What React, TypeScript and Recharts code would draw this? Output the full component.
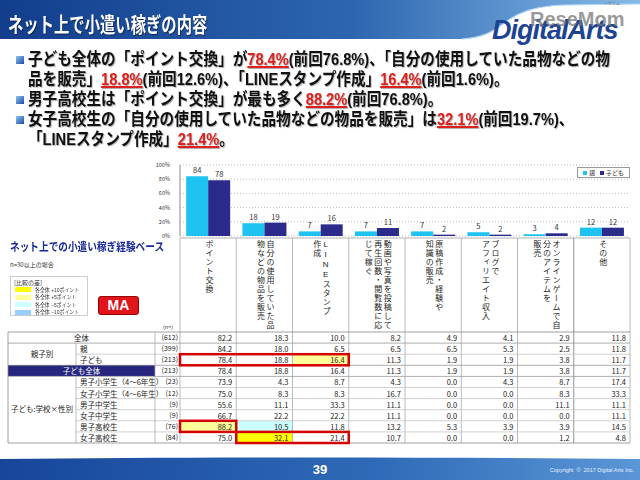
import React from 'react';
import { BarChart, Bar, XAxis, YAxis, CartesianGrid, LabelList, Legend } from 'recharts';

// ---------- data ----------
const titleText = 'ネット上で小遣い稼ぎの内容';
const categories = [
  'ポイント交換',
  '自分の使用していた品物などの物品を販売',
  'LINEスタンプ作成',
  '動画や写真を投稿して再生回数・閲覧数に応じて稼ぐ',
  '原稿作成・経験や知識の販売',
  'ブログでアフィリエイト収入',
  'オンラインゲームで自分のアイテムを販売',
  'その他',
];
const categoryHeaderLines = [
  ['ポイント交換'],
  ['自分の使用していた品', '物などの物品を販売'],
  ['LINEスタンプ', '作成'],
  ['動画や写真を投稿して', '再生回数・閲覧数に応', 'じて稼ぐ'],
  ['原稿作成・経験や', '知識の販売'],
  ['ブログで', 'アフィリエイト収入'],
  ['オンラインゲームで自', '分のアイテムを', '販売'],
  ['その他'],
];
const seriesNames = ['親', '子ども'];
const parentValues = [84.2, 18.0, 6.5, 6.5, 6.5, 5.3, 2.5, 11.8];
const childValues = [78.4, 18.8, 16.4, 11.3, 1.9, 1.9, 3.8, 11.7];
const yTicks = [0, 20, 40, 60, 80, 100];

const rowLabels = [
  '全体', '親', '子ども', '子ども全体',
  '男子小学生（4〜6年生）', '女子小学生（4〜6年生）',
  '男子中学生', '女子中学生', '男子高校生', '女子高校生',
];
const groupLabels = ['親子別', '子ども:学校×性別'];
const rowN = [612, 399, 213, 213, 23, 12, 9, 9, 76, 84];
const rowValues = [
  [82.2, 18.3, 10.0, 8.2, 4.9, 4.1, 2.9, 11.8],
  [84.2, 18.0, 6.5, 6.5, 6.5, 5.3, 2.5, 11.8],
  [78.4, 18.8, 16.4, 11.3, 1.9, 1.9, 3.8, 11.7],
  [78.4, 18.8, 16.4, 11.3, 1.9, 1.9, 3.8, 11.7],
  [73.9, 4.3, 8.7, 4.3, 0.0, 4.3, 8.7, 17.4],
  [75.0, 8.3, 8.3, 16.7, 0.0, 0.0, 8.3, 33.3],
  [55.6, 11.1, 33.3, 11.1, 0.0, 0.0, 11.1, 11.1],
  [66.7, 22.2, 22.2, 11.1, 0.0, 0.0, 0.0, 11.1],
  [88.2, 10.5, 11.8, 13.2, 5.3, 3.9, 3.9, 14.5],
  [75.0, 32.1, 21.4, 10.7, 0.0, 0.0, 1.2, 4.8],
];
const legendItems = ['各全体 +10ポイント', '各全体 +5ポイント', '各全体 −5ポイント', '各全体 −10ポイント'];

type Seg = { t: string; red?: boolean };
const bulletLines: { bullet: boolean; segs: Seg[] }[] = [
  { bullet: true, segs: [{ t: '子ども全体の「ポイント交換」が' }, { t: '78.4%', red: true }, { t: '(前回76.8%)、「自分の使用していた品物などの物' }] },
  { bullet: false, segs: [{ t: '品を販売」' }, { t: '18.8%', red: true }, { t: '(前回12.6%)、「LINEスタンプ作成」' }, { t: '16.4%', red: true }, { t: '(前回1.6%)。' }] },
  { bullet: true, segs: [{ t: '男子高校生は「ポイント交換」が最も多く' }, { t: '88.2%', red: true }, { t: '(前回76.8%)。' }] },
  { bullet: true, segs: [{ t: '女子高校生の「自分の使用していた品物などの物品を販売」は' }, { t: '32.1%', red: true }, { t: '(前回19.7%)、' }] },
  { bullet: false, segs: [{ t: '「LINEスタンプ作成」' }, { t: '21.4%', red: true }, { t: '。' }] },
];

// ---------- styles ----------
const FONT = "'Noto Sans CJK JP', 'Noto Sans', sans-serif";
const TIGHT_FONT = "'Liberation Sans', 'Noto Sans CJK JP', sans-serif";
const PARENT_COLOR = '#1ec3f2';
const CHILD_COLOR = '#2b2b8c';
const legendColors = ['#ffff00', '#ffff99', '#ccffff', '#99ccff'];
const highlights: { r: number; c: number; color: string }[] = [
  { r: 2, c: 2, color: '#ffff99' },
  { r: 8, c: 0, color: '#ffff99' },
  { r: 8, c: 1, color: '#ccffff' },
  { r: 9, c: 1, color: '#ffff00' },
];
const redBoxes = [
  { r: 2, c0: 0, c1: 3 },
  { r: 8, c0: 0, c1: 1 },
  { r: 9, c0: 1, c1: 3 },
];

const COL0 = 180;
const COL_W = 56.25;
const TABLE_R = 630;
const HEAD_TOP = 238;
const ROW_TOP = 332;
const ROW_H = 11.1;
const colX = (i: number) => COL0 + i * COL_W;
const rowY = (i: number) => ROW_TOP + i * ROW_H;

const chartData = categories.map((name, i) => ({
  name,
  parent: parentValues[i],
  child: childValues[i],
}));

const LegendBox = () => (
  <div
    style={{
      border: '1px solid #999',
      background: '#fff',
      height: 11,
      boxSizing: 'border-box',
      display: 'flex',
      alignItems: 'center',
      justifyContent: 'center',
      gap: 5,
      fontSize: 6,
      lineHeight: '8px',
      fontFamily: FONT,
      color: '#222',
      whiteSpace: 'nowrap',
    }}
  >
    {seriesNames.map((n, i) => (
      <span key={n} style={{ display: 'flex', alignItems: 'center' }}>
        <span style={{ display: 'inline-block', width: 4, height: 4, background: i === 0 ? PARENT_COLOR : CHILD_COLOR, marginRight: 2 }} />
        {n}
      </span>
    ))}
  </div>
);

export default function App() {
  const abs = (s: React.CSSProperties): React.CSSProperties => ({ position: 'absolute', ...s });

  const lines: JSX.Element[] = [];
  const L = (x1: number, y1: number, x2: number, y2: number, stroke = '#a0a0a0', w = 0.8) =>
    lines.push(<line key={lines.length} x1={x1} y1={y1} x2={x2} y2={y2} stroke={stroke} strokeWidth={w} />);

  // header boxes
  L(COL0, HEAD_TOP, TABLE_R, HEAD_TOP);
  for (let i = 0; i <= 8; i++) L(colX(i), HEAD_TOP, colX(i), rowY(10), i === 7 ? '#777' : '#a8a8a8');
  // table outer + rows
  L(8, rowY(0), TABLE_R, rowY(0), '#888');
  L(8, rowY(10), TABLE_R, rowY(10), '#888');
  for (let r = 1; r < 10; r++) {
    const inner1 = r === 2;
    const inner2 = r >= 5 && r <= 9;
    L(inner1 || inner2 ? 76 : 8, rowY(r), TABLE_R, rowY(r), r === 1 || r === 3 || r === 4 ? '#999' : '#c4c4c4');
  }
  L(8, rowY(0), 8, rowY(10), '#888');
  L(76, rowY(1), 76, rowY(3), '#aaa');
  L(76, rowY(4), 76, rowY(10), '#aaa');
  L(155, rowY(0), 155, rowY(10), '#aaa');

  return (
    <div style={{ position: 'absolute', left: 0, top: 0, width: 640, height: 480, background: '#fff', overflow: 'hidden', fontFamily: FONT }}>
      {/* header banner */}
      <svg width={640} height={480} style={abs({ left: 0, top: 0 })}>
        <defs>
          <linearGradient id="hg" x1="0" x2="1" y1="0" y2="0">
            <stop offset="0" stopColor="#123e8c" />
            <stop offset="0.55" stopColor="#2d66b0" />
            <stop offset="1" stopColor="#86bbe8" />
          </linearGradient>
          <linearGradient id="fg" x1="0" x2="1" y1="0" y2="0">
            <stop offset="0" stopColor="#17459a" />
            <stop offset="0.6" stopColor="#2f6bb8" />
            <stop offset="1" stopColor="#5b97d6" />
          </linearGradient>
          <linearGradient id="bq" x1="0" x2="1" y1="0" y2="1">
            <stop offset="0" stopColor="#8fc4f5" />
            <stop offset="1" stopColor="#1b4aa0" />
          </linearGradient>
        </defs>
        <path d="M0 0 H640 V4 L565 5 C535 6 518 12 503 24 C492 32 482 38 462 39 L0 39 Z" fill="url(#hg)" />
        <path d="M640 4 L565 5 C535 6 518 12 503 24 C492 32 482 38 462 39" fill="none" stroke="#b5d6f3" strokeWidth={1.2} />
        <path d="M0 459 C200 457 440 457 640 459 V480 H0 Z" fill="url(#fg)" />
        {bulletLines.map((b, i) =>
          b.bullet ? <rect key={i} x={16} y={56 + i * 20} width={8} height={8} fill="url(#bq)" /> : null
        )}
      </svg>

      <div style={abs({ left: 8, top: 8, fontSize: 21, fontWeight: 700, color: '#fff', whiteSpace: 'nowrap', transform: 'scaleX(0.73)', transformOrigin: 'left', lineHeight: '30px', textShadow: '1px 1px 1px #0a2050' })}>
        {titleText}
      </div>

      {/* logo */}
      <div style={abs({ left: 492, top: 15, fontSize: 27, fontWeight: 700, fontStyle: 'italic', color: '#1d4392', fontFamily: "'Liberation Sans', sans-serif", letterSpacing: -1, lineHeight: '30px', whiteSpace: 'nowrap' })}>
        DigitalArts
      </div>
      <div style={abs({ left: 530, top: 7, fontSize: 20, fontWeight: 700, color: 'rgba(120,120,120,0.75)', fontFamily: "'Liberation Sans', sans-serif", lineHeight: '24px', whiteSpace: 'nowrap' })}>
        ReseMom
      </div>
      <div style={abs({ left: 604, top: 1, fontSize: 4, lineHeight: '5px', color: '#777', whiteSpace: 'nowrap', fontFamily: TIGHT_FONT })}>リセマム</div>

      {/* bullet lines */}
      {bulletLines.map((b, i) => (
        <div key={i} style={abs({ left: 28, top: 50 + i * 20, fontSize: 17, fontWeight: 700, lineHeight: '20px', whiteSpace: 'nowrap', transform: 'scaleX(0.86)', transformOrigin: 'left', color: '#111', textShadow: '1px 1px 1px #b0b0b0', fontFamily: TIGHT_FONT })}>
          {b.segs.map((s, j) =>
            s.red ? (
              <span key={j} style={{ color: '#e0201c', textDecoration: 'underline', textDecorationThickness: 1.5 }}>{s.t}</span>
            ) : (
              <span key={j}>{s.t}</span>
            )
          )}
        </div>
      ))}

      {/* chart */}
      <div style={abs({ left: 150, top: 155 })}>
        <BarChart width={490} height={90} data={chartData} margin={{ top: 10, right: 10, bottom: 9, left: 0 }} barCategoryGap="11%" barGap={0}>
          <CartesianGrid vertical={false} stroke="#bdbdbd" strokeDasharray="1 2" />
          <XAxis dataKey="name" height={0} tick={false} tickLine={false} axisLine={{ stroke: '#888' }} />
          <YAxis width={30} domain={[0, 100]} ticks={yTicks} interval={0} tickFormatter={(v: number) => `${v}%`} tick={{ fontSize: 5.5, fill: '#333' }} tickLine={false} axisLine={{ stroke: '#888' }} tickMargin={4} />
          <Legend layout="vertical" align="center" verticalAlign="middle" wrapperStyle={{ left: 427, top: 12, width: 53, height: 11 }} content={() => <LegendBox />} />
          <Bar dataKey="parent" name={seriesNames[0]} fill={PARENT_COLOR} isAnimationActive={false}>
            <LabelList dataKey="parent" position="top" offset={3} style={{ fontSize: 7.5, fill: '#333' }} formatter={(v: any) => Math.round(Number(v))} />
          </Bar>
          <Bar dataKey="child" name={seriesNames[1]} fill={CHILD_COLOR} isAnimationActive={false}>
            <LabelList dataKey="child" position="top" offset={3} style={{ fontSize: 7.5, fill: '#333' }} formatter={(v: any) => Math.round(Number(v))} />
          </Bar>
        </BarChart>
      </div>

      {/* left annotations */}
      <div style={abs({ left: 10, top: 240, fontSize: 11.5, fontWeight: 700, color: '#1a2a95', whiteSpace: 'nowrap', transform: 'scaleX(0.84)', transformOrigin: 'left', lineHeight: '14px', fontFamily: TIGHT_FONT })}>
        ネット上での小遣い稼ぎ経験ベース
      </div>
      <div style={abs({ left: 10, top: 261, fontSize: 6, color: '#333', whiteSpace: 'nowrap', lineHeight: '8px' })}>n=30以上の場合</div>
      <div style={abs({ left: 10, top: 276, width: 78, height: 40, border: '1px solid #ccc', boxSizing: 'border-box', background: '#fff' })} />
      <div style={abs({ left: 14, top: 279, fontSize: 6, color: '#333', whiteSpace: 'nowrap', lineHeight: '7px' })}>[比較の差]</div>
      {legendItems.map((t, i) => (
        <React.Fragment key={t}>
          <div style={abs({ left: 15, top: 287 + i * 7.6, width: 16, height: 5, background: legendColors[i] })} />
          <div style={abs({ left: 35, top: 286.5 + i * 7.6, fontSize: 5.2, color: '#333', whiteSpace: 'nowrap', lineHeight: '7px', transform: 'scaleX(0.95)', transformOrigin: 'left', fontFamily: TIGHT_FONT })}>{t}</div>
        </React.Fragment>
      ))}
      <div style={abs({ left: 98, top: 296, width: 41, height: 19, background: '#e0141a', borderRadius: 3, border: '1px solid #900', boxSizing: 'border-box', color: '#fff', fontWeight: 700, fontSize: 14, lineHeight: '17px', textAlign: 'center', fontFamily: "'Liberation Sans', sans-serif" })}>
        MA
      </div>
      <div style={abs({ left: 163, top: 324, fontSize: 5.5, color: '#333', lineHeight: '7px' })}>(n=)</div>

      {/* category headers (vertical text) */}
      {categoryHeaderLines.map((ls, i) => (
        <div key={i} style={abs({ left: colX(i), top: HEAD_TOP + 2, width: COL_W, display: 'flex', justifyContent: 'center' })}>
          <div style={{ writingMode: 'vertical-rl', textOrientation: 'upright', fontSize: 8, letterSpacing: 1, lineHeight: '9.5px', color: '#222', whiteSpace: 'nowrap', fontFamily: TIGHT_FONT }}>
            {ls.map((l, j) => (
              <React.Fragment key={j}>
                {j > 0 ? <br /> : null}
                {l}
              </React.Fragment>
            ))}
          </div>
        </div>
      ))}

      {/* highlighted cells */}
      {highlights.map((h, i) => (
        <div key={i} style={abs({ left: colX(h.c), top: rowY(h.r), width: COL_W, height: ROW_H, background: h.color })} />
      ))}
      <div style={abs({ left: 8, top: rowY(3), width: 147, height: ROW_H, background: '#26267f' })} />

      {/* row labels */}
      {rowLabels.map((lab, r) => {
        const full = r === 0 || r === 3;
        return (
          <div key={r} style={abs({ left: full ? 8 : 80, top: rowY(r), width: full ? 147 : 75, height: ROW_H, lineHeight: `${ROW_H}px`, fontSize: 7.5, textAlign: full ? 'center' : 'left', color: r === 3 ? '#fff' : '#222', whiteSpace: 'nowrap' })}>
            {lab}
          </div>
        );
      })}
      <div style={abs({ left: 8, top: rowY(1), width: 68, height: ROW_H * 2, lineHeight: `${ROW_H * 2}px`, fontSize: 7.5, textAlign: 'center', color: '#222' })}>{groupLabels[0]}</div>
      <div style={abs({ left: 8, top: rowY(4), width: 68, height: ROW_H * 6, lineHeight: `${ROW_H * 6}px`, fontSize: 7.5, textAlign: 'center', color: '#222', whiteSpace: 'nowrap' })}>{groupLabels[1]}</div>

      {/* n column */}
      {rowN.map((n, r) => (
        <div key={r} style={abs({ left: 155, top: rowY(r), width: 23, height: ROW_H, lineHeight: `${ROW_H}px`, fontSize: 7, textAlign: 'right', color: '#222' })}>({n})</div>
      ))}

      {/* values */}
      {rowValues.map((vals, r) =>
        vals.map((v, c) => (
          <div key={`${r}-${c}`} style={abs({ left: colX(c), top: rowY(r), width: COL_W - 4, height: ROW_H, lineHeight: `${ROW_H}px`, fontSize: 7.5, textAlign: 'right', color: '#222' })}>
            {v.toFixed(1)}
          </div>
        ))
      )}

      {/* grid lines & red boxes */}
      <svg width={640} height={480} style={abs({ left: 0, top: 0, pointerEvents: 'none' })}>
        {lines}
        {redBoxes.map((b, i) => (
          <rect key={i} x={colX(b.c0)} y={rowY(b.r)} width={colX(b.c1) - colX(b.c0)} height={ROW_H} fill="none" stroke="#d50000" strokeWidth={2.5} />
        ))}
      </svg>

      {/* footer */}
      <div style={abs({ left: 0, top: 460, width: 640, textAlign: 'center', color: '#fff', fontWeight: 700, fontSize: 13, lineHeight: '20px', fontFamily: "'Liberation Sans', sans-serif" })}>39</div>
      <div style={abs({ left: 500, top: 466, width: 134, textAlign: 'right', color: '#e8f0ff', fontSize: 5.5, lineHeight: '8px', fontFamily: "'Liberation Sans', sans-serif", whiteSpace: 'nowrap' })}>
        Copyright&nbsp; ©&nbsp; 2017 Digital Arts Inc.
      </div>
    </div>
  );
}
